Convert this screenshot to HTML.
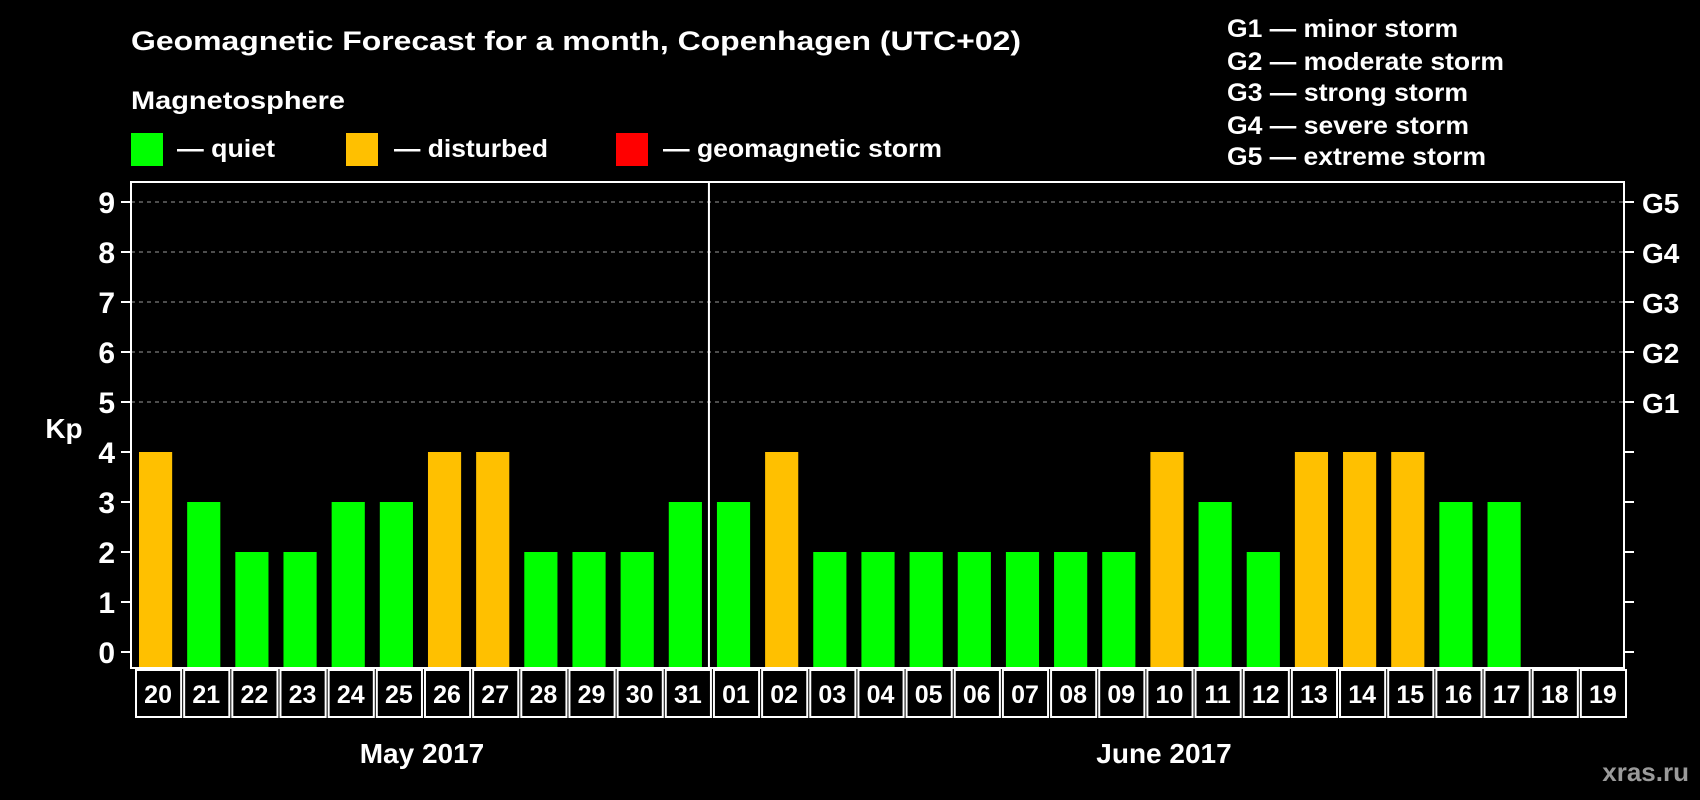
<!DOCTYPE html>
<html><head><meta charset="utf-8"><style>
html,body{margin:0;padding:0;background:#000;width:1700px;height:800px;overflow:hidden}
text{font-family:"Liberation Sans",Arial,sans-serif;font-weight:bold;fill:#fff}
</style></head><body>
<svg id="chart" width="1700" height="800" xmlns="http://www.w3.org/2000/svg">
<text x="131" y="50" font-size="27" textLength="890" lengthAdjust="spacingAndGlyphs">Geomagnetic Forecast for a month, Copenhagen (UTC+02)</text>
<text x="131" y="109" font-size="25" textLength="214" lengthAdjust="spacingAndGlyphs">Magnetosphere</text>
<g><rect x="131" y="133" width="32" height="33" fill="#00ff00"/><text x="177" y="157" font-size="25" textLength="98" lengthAdjust="spacingAndGlyphs">— quiet</text></g>
<g><rect x="346" y="133" width="32" height="33" fill="#ffc000"/><text x="394" y="157" font-size="25" textLength="154" lengthAdjust="spacingAndGlyphs">— disturbed</text></g>
<g><rect x="616" y="133" width="32" height="33" fill="#ff0000"/><text x="663" y="157" font-size="25" textLength="279" lengthAdjust="spacingAndGlyphs">— geomagnetic storm</text></g>
<g font-size="25">
<text x="1227" y="37" textLength="231" lengthAdjust="spacingAndGlyphs">G1 — minor storm</text>
<text x="1227" y="70" textLength="277" lengthAdjust="spacingAndGlyphs">G2 — moderate storm</text>
<text x="1227" y="101" textLength="241" lengthAdjust="spacingAndGlyphs">G3 — strong storm</text>
<text x="1227" y="134" textLength="242" lengthAdjust="spacingAndGlyphs">G4 — severe storm</text>
<text x="1227" y="165" textLength="259" lengthAdjust="spacingAndGlyphs">G5 — extreme storm</text>
</g>
<text x="64" y="438" font-size="28" text-anchor="middle">Kp</text>
<text x="422" y="763" font-size="28" text-anchor="middle">May 2017</text>
<text x="1164" y="763" font-size="28" text-anchor="middle">June 2017</text>
<text x="1689" y="781" font-size="26" text-anchor="end" style="fill:#9a9a9a">xras.ru</text>
<g id="plot"></g>
</svg>
<script>
const days = ["20","21","22","23","24","25","26","27","28","29","30","31","01","02","03","04","05","06","07","08","09","10","11","12","13","14","15","16","17","18","19"];
const kpValues = [4,3,2,2,3,3,4,4,2,2,2,3,3,4,2,2,2,2,2,2,2,4,3,2,4,4,4,3,3,null,null];
const yTicks = [0,1,2,3,4,5,6,7,8,9];
const gLabels = ["","","","","","G1","G2","G3","G4","G5"];
const NS="http://www.w3.org/2000/svg";
const L=131,R=1624,T=182,B=668,Y0=652,Y9=202;
const slot=(R-L)/days.length;
const x=i=>L+i*slot;
const y=v=>Y0-(Y0-Y9)*v/9;
const plot=document.getElementById('plot');
function mk(tag,attrs,parent){const e=document.createElementNS(NS,tag);for(const k in attrs)e.setAttribute(k,attrs[k]);(parent||plot).appendChild(e);return e;}
yTicks.forEach((v,i)=>{
  if(v>=5){const g=mk('line',{x1:L,x2:R,y1:y(v),y2:y(v),stroke:'#9a9a9a','stroke-width':1,'stroke-dasharray':'4,4'});
  
  }
  const t1=mk('line',{x1:L-10,x2:L,y1:y(v),y2:y(v),stroke:'#fff','stroke-width':2});
  
  
  const t2=mk('line',{x1:R,x2:R+10,y1:y(v),y2:y(v),stroke:'#fff','stroke-width':2});
  
  
  const lb=mk('text',{x:L-16,y:y(v)+11,'font-size':30,'text-anchor':'end'});lb.textContent=v;
  
  
  if(gLabels[i]){const gl=mk('text',{x:R+18,y:y(v)+11,'font-size':28});gl.textContent=gLabels[i];
  
  }
});
kpValues.forEach((v,i)=>{
  if(v!==null){const col=v>=5?'#ff0000':(v>=4?'#ffc000':'#00ff00');
  const b=mk('rect',{x:x(i)+8,y:y(v),width:slot-15,height:y(0)-y(v)+16,fill:col});
  
  }
  const c=mk('rect',{x:x(i)+5,y:B+2,width:slot-3,height:47,fill:'none',stroke:'#fff','stroke-width':2});
  
  
  const t=mk('text',{x:x(i)+slot/2+3,y:B+35,'font-size':25,'text-anchor':'middle'});t.textContent=days[i];
  
  
});
const fr=mk('rect',{x:L,y:T,width:R-L,height:B-T,fill:'none',stroke:'#fff','stroke-width':2});


const dv=mk('line',{x1:x(12),x2:x(12),y1:T,y2:B,stroke:'#fff','stroke-width':2});


</script>
</body></html>
